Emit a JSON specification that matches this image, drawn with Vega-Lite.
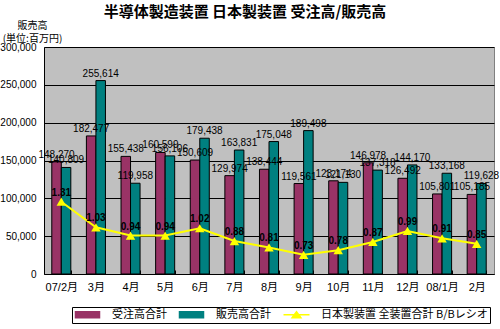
{
  "$schema": "https://vega.github.io/schema/vega-lite/v6.json",
  "autosize": "none",
  "width": 450,
  "height": 227,
  "padding": {"left": 44, "top": 47, "right": 6, "bottom": 55},
  "background": "white",
  "config": {
    "font": "Liberation Sans, Noto Sans CJK JP",
    "view": {"fill": "#C0C0C0", "stroke": "#808080"}
  },
  "title": {
    "text": "半導体製造装置 日本製装置 受注高/販売高",
    "font": "Noto Sans CJK JP",
    "fontSize": 15,
    "fontWeight": "bold",
    "anchor": "middle",
    "frame": "group",
    "dx": -24,
    "offset": 0,
    "color": "black"
  },
  "data": {
    "values": [
      {"month": "07/2月", "受注高合計": 148270, "販売高合計": 140809, "ratio": 1.31},
      {"month": "3月", "受注高合計": 182477, "販売高合計": 255614, "ratio": 1.03},
      {"month": "4月", "受注高合計": 155438, "販売高合計": 119958, "ratio": 0.94},
      {"month": "5月", "受注高合計": 160599, "販売高合計": 156106, "ratio": 0.94},
      {"month": "6月", "受注高合計": 150609, "販売高合計": 179438, "ratio": 1.02},
      {"month": "7月", "受注高合計": 129974, "販売高合計": 163831, "ratio": 0.88},
      {"month": "8月", "受注高合計": 138444, "販売高合計": 175048, "ratio": 0.81},
      {"month": "9月", "受注高合計": 119561, "販売高合計": 189498, "ratio": 0.73},
      {"month": "10月", "受注高合計": 123174, "販売高合計": 121130, "ratio": 0.78},
      {"month": "11月", "受注高合計": 146978, "販売高合計": 137318, "ratio": 0.87},
      {"month": "12月", "受注高合計": 126492, "販売高合計": 144170, "ratio": 0.99},
      {"month": "08/1月", "受注高合計": 105801, "販売高合計": 133168, "ratio": 0.91},
      {"month": "2月", "受注高合計": 105185, "販売高合計": 119628, "ratio": 0.85}
    ]
  },
  "encoding": {
    "x": {
      "field": "month",
      "type": "nominal",
      "sort": null,
      "scale": {"paddingInner": 0.45, "paddingOuter": 0.225},
      "axis": {
        "title": null,
        "labelAngle": 0,
        "labelFontSize": 11,
        "labelColor": "black",
        "labelPadding": 11,
        "tickBand": "extent",
        "tickSize": -4,
        "tickColor": "black",
        "domainColor": "black",
        "grid": false
      }
    }
  },
  "layer": [
    {
      "transform": [{"fold": ["受注高合計", "販売高合計"], "as": ["series", "value"]}],
      "encoding": {
        "xOffset": {"field": "series", "type": "nominal", "sort": ["受注高合計", "販売高合計"]},
        "y": {
          "field": "value",
          "type": "quantitative",
          "scale": {"domain": [0, 300000], "nice": false},
          "axis": {
            "tickCount": 6,
            "labelExpr": "format(datum.value, ',')",
            "labelFontSize": 10,
            "labelColor": "black",
            "labelPadding": 8,
            "ticks": false,
            "domainColor": "black",
            "gridColor": "black",
            "gridOpacity": 1,
            "title": ["販売高", "(単位:百万円)"],
            "titleFont": "Noto Sans CJK JP",
            "titleFontSize": 10,
            "titleFontWeight": "normal",
            "titleColor": "black",
            "titleAngle": 0,
            "titleAlign": "center",
            "titleBaseline": "top",
            "titleLineHeight": 13,
            "titleX": -12,
            "titleY": -27
          }
        }
      },
      "layer": [
        {
          "mark": {"type": "bar", "stroke": "black", "strokeWidth": 1},
          "encoding": {
            "color": {
              "field": "series",
              "type": "nominal",
              "scale": {
                "domain": ["受注高合計", "販売高合計", "日本製装置 全装置合計 B/Bレシオ"],
                "range": ["#993366", "#008080", "#FFFF00"]
              },
              "legend": {
                "title": null,
                "orient": "none",
                "legendX": 28,
                "legendY": 260,
                "direction": "horizontal",
                "strokeColor": "black",
                "fillColor": "white",
                "padding": 2,
                "symbolSize": 64,
                "symbolOffset": 8,
                "symbolType": {"expr": "datum.value === '日本製装置 全装置合計 B/Bレシオ' ? 'M-3.25,0H3.25M-1.1,0.7L0,-0.8L1.1,0.7Z' : 'M-3,-0.75H3V0.75H-3Z'"},
                "symbolStrokeColor": {"expr": "datum.value === '日本製装置 全装置合計 B/Bレシオ' ? '#FFFF00' : 'black'"},
                "symbolStrokeWidth": 1.5,
                "symbolOpacity": 1,
                "labelFontSize": 11,
                "labelColor": "black",
                "labelFont": "Noto Sans CJK JP",
                "labelOffset": 19,
                "labelLimit": 0,
                "columnPadding": 9
              }
            }
          }
        },
        {
          "mark": {"type": "text", "baseline": "bottom", "dy": -2, "fontSize": 10, "color": "black", "font": "Liberation Sans"},
          "encoding": {
            "text": {"field": "value", "type": "quantitative", "format": ","}
          }
        }
      ]
    },
    {
      "encoding": {
        "y": {
          "field": "ratio",
          "type": "quantitative",
          "scale": {"domain": [0.52, 3.0], "nice": false, "zero": false},
          "axis": null
        }
      },
      "layer": [
        {
          "mark": {"type": "line", "strokeWidth": 2, "point": {"shape": "triangle-up", "size": 90, "filled": true, "opacity": 1}},
          "encoding": {
            "color": {"datum": "日本製装置 全装置合計 B/Bレシオ"}
          }
        },
        {
          "mark": {"type": "text", "dy": -9, "fontSize": 10, "fontWeight": "bold", "color": "black", "font": "Liberation Sans"},
          "encoding": {
            "text": {"field": "ratio", "type": "quantitative", "format": ".2f"}
          }
        }
      ]
    }
  ],
  "resolve": {"scale": {"y": "independent"}}
}
